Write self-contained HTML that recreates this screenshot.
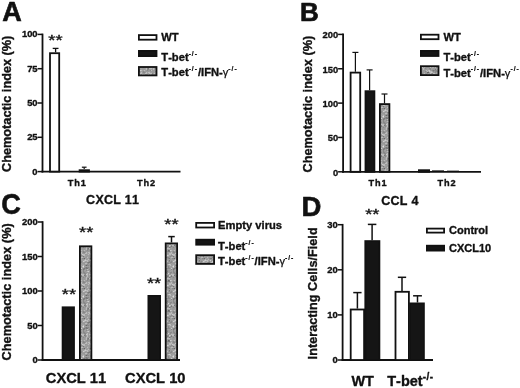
<!DOCTYPE html><html><head><meta charset="utf-8"><title>Figure</title><style>html,body{margin:0;padding:0;background:#fff;overflow:hidden}svg{display:block}</style></head><body><svg width="520" height="388" viewBox="0 0 520 388" fill="#111" style="font-kerning:none;filter:blur(0.4px)"><defs><pattern id="noise" width="30" height="30" patternUnits="userSpaceOnUse"><rect width="30" height="30" fill="#a0a0a0"/><rect x="0" y="0" width="1.02" height="1.02" fill="#888"/><rect x="0" y="1" width="1.02" height="1.02" fill="#888"/><rect x="0" y="4" width="1.02" height="1.02" fill="#ccc"/><rect x="0" y="7" width="1.02" height="1.02" fill="#ccc"/><rect x="0" y="8" width="1.02" height="1.02" fill="#bbb"/><rect x="0" y="10" width="1.02" height="1.02" fill="#888"/><rect x="0" y="11" width="1.02" height="1.02" fill="#999"/><rect x="0" y="13" width="1.02" height="1.02" fill="#bbb"/><rect x="0" y="14" width="1.02" height="1.02" fill="#bbb"/><rect x="0" y="18" width="1.02" height="1.02" fill="#777"/><rect x="0" y="19" width="1.02" height="1.02" fill="#999"/><rect x="0" y="20" width="1.02" height="1.02" fill="#ccc"/><rect x="0" y="25" width="1.02" height="1.02" fill="#888"/><rect x="0" y="26" width="1.02" height="1.02" fill="#888"/><rect x="1" y="0" width="1.02" height="1.02" fill="#888"/><rect x="1" y="1" width="1.02" height="1.02" fill="#999"/><rect x="1" y="2" width="1.02" height="1.02" fill="#bbb"/><rect x="1" y="3" width="1.02" height="1.02" fill="#bbb"/><rect x="1" y="4" width="1.02" height="1.02" fill="#888"/><rect x="1" y="5" width="1.02" height="1.02" fill="#888"/><rect x="1" y="6" width="1.02" height="1.02" fill="#ccc"/><rect x="1" y="7" width="1.02" height="1.02" fill="#ddd"/><rect x="1" y="8" width="1.02" height="1.02" fill="#bbb"/><rect x="1" y="10" width="1.02" height="1.02" fill="#bbb"/><rect x="1" y="11" width="1.02" height="1.02" fill="#999"/><rect x="1" y="13" width="1.02" height="1.02" fill="#bbb"/><rect x="1" y="15" width="1.02" height="1.02" fill="#999"/><rect x="1" y="16" width="1.02" height="1.02" fill="#999"/><rect x="1" y="17" width="1.02" height="1.02" fill="#999"/><rect x="1" y="18" width="1.02" height="1.02" fill="#777"/><rect x="1" y="19" width="1.02" height="1.02" fill="#999"/><rect x="1" y="20" width="1.02" height="1.02" fill="#999"/><rect x="1" y="21" width="1.02" height="1.02" fill="#999"/><rect x="1" y="22" width="1.02" height="1.02" fill="#bbb"/><rect x="1" y="23" width="1.02" height="1.02" fill="#888"/><rect x="1" y="26" width="1.02" height="1.02" fill="#999"/><rect x="1" y="27" width="1.02" height="1.02" fill="#999"/><rect x="1" y="28" width="1.02" height="1.02" fill="#999"/><rect x="1" y="29" width="1.02" height="1.02" fill="#ccc"/><rect x="2" y="0" width="1.02" height="1.02" fill="#999"/><rect x="2" y="1" width="1.02" height="1.02" fill="#999"/><rect x="2" y="2" width="1.02" height="1.02" fill="#999"/><rect x="2" y="3" width="1.02" height="1.02" fill="#999"/><rect x="2" y="4" width="1.02" height="1.02" fill="#999"/><rect x="2" y="5" width="1.02" height="1.02" fill="#999"/><rect x="2" y="6" width="1.02" height="1.02" fill="#ccc"/><rect x="2" y="7" width="1.02" height="1.02" fill="#ccc"/><rect x="2" y="9" width="1.02" height="1.02" fill="#999"/><rect x="2" y="10" width="1.02" height="1.02" fill="#999"/><rect x="2" y="11" width="1.02" height="1.02" fill="#999"/><rect x="2" y="12" width="1.02" height="1.02" fill="#999"/><rect x="2" y="13" width="1.02" height="1.02" fill="#888"/><rect x="2" y="14" width="1.02" height="1.02" fill="#888"/><rect x="2" y="15" width="1.02" height="1.02" fill="#999"/><rect x="2" y="16" width="1.02" height="1.02" fill="#999"/><rect x="2" y="17" width="1.02" height="1.02" fill="#888"/><rect x="2" y="19" width="1.02" height="1.02" fill="#999"/><rect x="2" y="21" width="1.02" height="1.02" fill="#ccc"/><rect x="2" y="22" width="1.02" height="1.02" fill="#bbb"/><rect x="2" y="24" width="1.02" height="1.02" fill="#ccc"/><rect x="2" y="27" width="1.02" height="1.02" fill="#999"/><rect x="2" y="28" width="1.02" height="1.02" fill="#999"/><rect x="3" y="1" width="1.02" height="1.02" fill="#999"/><rect x="3" y="2" width="1.02" height="1.02" fill="#999"/><rect x="3" y="3" width="1.02" height="1.02" fill="#888"/><rect x="3" y="4" width="1.02" height="1.02" fill="#999"/><rect x="3" y="5" width="1.02" height="1.02" fill="#999"/><rect x="3" y="6" width="1.02" height="1.02" fill="#999"/><rect x="3" y="8" width="1.02" height="1.02" fill="#bbb"/><rect x="3" y="9" width="1.02" height="1.02" fill="#bbb"/><rect x="3" y="10" width="1.02" height="1.02" fill="#999"/><rect x="3" y="11" width="1.02" height="1.02" fill="#999"/><rect x="3" y="12" width="1.02" height="1.02" fill="#999"/><rect x="3" y="14" width="1.02" height="1.02" fill="#999"/><rect x="3" y="15" width="1.02" height="1.02" fill="#888"/><rect x="3" y="19" width="1.02" height="1.02" fill="#999"/><rect x="3" y="20" width="1.02" height="1.02" fill="#999"/><rect x="3" y="21" width="1.02" height="1.02" fill="#999"/><rect x="3" y="22" width="1.02" height="1.02" fill="#999"/><rect x="3" y="23" width="1.02" height="1.02" fill="#bbb"/><rect x="3" y="24" width="1.02" height="1.02" fill="#bbb"/><rect x="3" y="25" width="1.02" height="1.02" fill="#ccc"/><rect x="4" y="0" width="1.02" height="1.02" fill="#bbb"/><rect x="4" y="1" width="1.02" height="1.02" fill="#999"/><rect x="4" y="3" width="1.02" height="1.02" fill="#777"/><rect x="4" y="4" width="1.02" height="1.02" fill="#888"/><rect x="4" y="5" width="1.02" height="1.02" fill="#bbb"/><rect x="4" y="7" width="1.02" height="1.02" fill="#bbb"/><rect x="4" y="10" width="1.02" height="1.02" fill="#999"/><rect x="4" y="13" width="1.02" height="1.02" fill="#bbb"/><rect x="4" y="14" width="1.02" height="1.02" fill="#999"/><rect x="4" y="15" width="1.02" height="1.02" fill="#999"/><rect x="4" y="17" width="1.02" height="1.02" fill="#bbb"/><rect x="4" y="20" width="1.02" height="1.02" fill="#888"/><rect x="4" y="21" width="1.02" height="1.02" fill="#888"/><rect x="4" y="22" width="1.02" height="1.02" fill="#888"/><rect x="4" y="24" width="1.02" height="1.02" fill="#999"/><rect x="4" y="27" width="1.02" height="1.02" fill="#bbb"/><rect x="4" y="28" width="1.02" height="1.02" fill="#ccc"/><rect x="5" y="1" width="1.02" height="1.02" fill="#999"/><rect x="5" y="2" width="1.02" height="1.02" fill="#999"/><rect x="5" y="3" width="1.02" height="1.02" fill="#999"/><rect x="5" y="4" width="1.02" height="1.02" fill="#888"/><rect x="5" y="5" width="1.02" height="1.02" fill="#999"/><rect x="5" y="6" width="1.02" height="1.02" fill="#ccc"/><rect x="5" y="8" width="1.02" height="1.02" fill="#888"/><rect x="5" y="9" width="1.02" height="1.02" fill="#999"/><rect x="5" y="11" width="1.02" height="1.02" fill="#888"/><rect x="5" y="12" width="1.02" height="1.02" fill="#999"/><rect x="5" y="13" width="1.02" height="1.02" fill="#999"/><rect x="5" y="14" width="1.02" height="1.02" fill="#999"/><rect x="5" y="15" width="1.02" height="1.02" fill="#999"/><rect x="5" y="17" width="1.02" height="1.02" fill="#888"/><rect x="5" y="18" width="1.02" height="1.02" fill="#999"/><rect x="5" y="20" width="1.02" height="1.02" fill="#999"/><rect x="5" y="21" width="1.02" height="1.02" fill="#bbb"/><rect x="5" y="22" width="1.02" height="1.02" fill="#777"/><rect x="5" y="23" width="1.02" height="1.02" fill="#999"/><rect x="5" y="24" width="1.02" height="1.02" fill="#999"/><rect x="5" y="26" width="1.02" height="1.02" fill="#ccc"/><rect x="5" y="27" width="1.02" height="1.02" fill="#ccc"/><rect x="5" y="29" width="1.02" height="1.02" fill="#999"/><rect x="6" y="0" width="1.02" height="1.02" fill="#888"/><rect x="6" y="1" width="1.02" height="1.02" fill="#888"/><rect x="6" y="2" width="1.02" height="1.02" fill="#999"/><rect x="6" y="3" width="1.02" height="1.02" fill="#999"/><rect x="6" y="4" width="1.02" height="1.02" fill="#999"/><rect x="6" y="5" width="1.02" height="1.02" fill="#999"/><rect x="6" y="6" width="1.02" height="1.02" fill="#999"/><rect x="6" y="7" width="1.02" height="1.02" fill="#999"/><rect x="6" y="8" width="1.02" height="1.02" fill="#999"/><rect x="6" y="9" width="1.02" height="1.02" fill="#999"/><rect x="6" y="10" width="1.02" height="1.02" fill="#bbb"/><rect x="6" y="12" width="1.02" height="1.02" fill="#999"/><rect x="6" y="13" width="1.02" height="1.02" fill="#999"/><rect x="6" y="14" width="1.02" height="1.02" fill="#888"/><rect x="6" y="15" width="1.02" height="1.02" fill="#999"/><rect x="6" y="17" width="1.02" height="1.02" fill="#777"/><rect x="6" y="18" width="1.02" height="1.02" fill="#777"/><rect x="6" y="19" width="1.02" height="1.02" fill="#888"/><rect x="6" y="20" width="1.02" height="1.02" fill="#999"/><rect x="6" y="21" width="1.02" height="1.02" fill="#ccc"/><rect x="6" y="22" width="1.02" height="1.02" fill="#999"/><rect x="6" y="23" width="1.02" height="1.02" fill="#999"/><rect x="6" y="24" width="1.02" height="1.02" fill="#bbb"/><rect x="6" y="25" width="1.02" height="1.02" fill="#999"/><rect x="6" y="27" width="1.02" height="1.02" fill="#ccc"/><rect x="6" y="28" width="1.02" height="1.02" fill="#888"/><rect x="6" y="29" width="1.02" height="1.02" fill="#888"/><rect x="7" y="0" width="1.02" height="1.02" fill="#888"/><rect x="7" y="1" width="1.02" height="1.02" fill="#888"/><rect x="7" y="2" width="1.02" height="1.02" fill="#999"/><rect x="7" y="5" width="1.02" height="1.02" fill="#999"/><rect x="7" y="6" width="1.02" height="1.02" fill="#888"/><rect x="7" y="7" width="1.02" height="1.02" fill="#999"/><rect x="7" y="11" width="1.02" height="1.02" fill="#bbb"/><rect x="7" y="12" width="1.02" height="1.02" fill="#666"/><rect x="7" y="13" width="1.02" height="1.02" fill="#888"/><rect x="7" y="14" width="1.02" height="1.02" fill="#bbb"/><rect x="7" y="17" width="1.02" height="1.02" fill="#888"/><rect x="7" y="18" width="1.02" height="1.02" fill="#999"/><rect x="7" y="19" width="1.02" height="1.02" fill="#999"/><rect x="7" y="20" width="1.02" height="1.02" fill="#999"/><rect x="7" y="21" width="1.02" height="1.02" fill="#999"/><rect x="7" y="22" width="1.02" height="1.02" fill="#bbb"/><rect x="7" y="25" width="1.02" height="1.02" fill="#999"/><rect x="7" y="26" width="1.02" height="1.02" fill="#999"/><rect x="7" y="29" width="1.02" height="1.02" fill="#999"/><rect x="8" y="0" width="1.02" height="1.02" fill="#bbb"/><rect x="8" y="3" width="1.02" height="1.02" fill="#999"/><rect x="8" y="4" width="1.02" height="1.02" fill="#999"/><rect x="8" y="5" width="1.02" height="1.02" fill="#999"/><rect x="8" y="6" width="1.02" height="1.02" fill="#999"/><rect x="8" y="7" width="1.02" height="1.02" fill="#999"/><rect x="8" y="10" width="1.02" height="1.02" fill="#bbb"/><rect x="8" y="12" width="1.02" height="1.02" fill="#666"/><rect x="8" y="13" width="1.02" height="1.02" fill="#999"/><rect x="8" y="14" width="1.02" height="1.02" fill="#bbb"/><rect x="8" y="15" width="1.02" height="1.02" fill="#ccc"/><rect x="8" y="16" width="1.02" height="1.02" fill="#bbb"/><rect x="8" y="17" width="1.02" height="1.02" fill="#ccc"/><rect x="8" y="18" width="1.02" height="1.02" fill="#bbb"/><rect x="8" y="19" width="1.02" height="1.02" fill="#999"/><rect x="8" y="20" width="1.02" height="1.02" fill="#999"/><rect x="8" y="21" width="1.02" height="1.02" fill="#999"/><rect x="8" y="22" width="1.02" height="1.02" fill="#999"/><rect x="8" y="23" width="1.02" height="1.02" fill="#999"/><rect x="8" y="25" width="1.02" height="1.02" fill="#bbb"/><rect x="8" y="26" width="1.02" height="1.02" fill="#bbb"/><rect x="8" y="27" width="1.02" height="1.02" fill="#bbb"/><rect x="8" y="29" width="1.02" height="1.02" fill="#bbb"/><rect x="9" y="0" width="1.02" height="1.02" fill="#bbb"/><rect x="9" y="1" width="1.02" height="1.02" fill="#999"/><rect x="9" y="2" width="1.02" height="1.02" fill="#999"/><rect x="9" y="3" width="1.02" height="1.02" fill="#999"/><rect x="9" y="4" width="1.02" height="1.02" fill="#999"/><rect x="9" y="5" width="1.02" height="1.02" fill="#999"/><rect x="9" y="8" width="1.02" height="1.02" fill="#888"/><rect x="9" y="9" width="1.02" height="1.02" fill="#999"/><rect x="9" y="10" width="1.02" height="1.02" fill="#ccc"/><rect x="9" y="11" width="1.02" height="1.02" fill="#ccc"/><rect x="9" y="13" width="1.02" height="1.02" fill="#999"/><rect x="9" y="15" width="1.02" height="1.02" fill="#888"/><rect x="9" y="16" width="1.02" height="1.02" fill="#888"/><rect x="9" y="18" width="1.02" height="1.02" fill="#bbb"/><rect x="9" y="19" width="1.02" height="1.02" fill="#888"/><rect x="9" y="20" width="1.02" height="1.02" fill="#bbb"/><rect x="9" y="21" width="1.02" height="1.02" fill="#ddd"/><rect x="9" y="22" width="1.02" height="1.02" fill="#999"/><rect x="9" y="23" width="1.02" height="1.02" fill="#888"/><rect x="9" y="24" width="1.02" height="1.02" fill="#999"/><rect x="9" y="25" width="1.02" height="1.02" fill="#999"/><rect x="9" y="26" width="1.02" height="1.02" fill="#888"/><rect x="9" y="27" width="1.02" height="1.02" fill="#999"/><rect x="9" y="28" width="1.02" height="1.02" fill="#999"/><rect x="9" y="29" width="1.02" height="1.02" fill="#999"/><rect x="10" y="1" width="1.02" height="1.02" fill="#bbb"/><rect x="10" y="2" width="1.02" height="1.02" fill="#999"/><rect x="10" y="3" width="1.02" height="1.02" fill="#999"/><rect x="10" y="6" width="1.02" height="1.02" fill="#ccc"/><rect x="10" y="7" width="1.02" height="1.02" fill="#ccc"/><rect x="10" y="8" width="1.02" height="1.02" fill="#888"/><rect x="10" y="9" width="1.02" height="1.02" fill="#888"/><rect x="10" y="11" width="1.02" height="1.02" fill="#bbb"/><rect x="10" y="12" width="1.02" height="1.02" fill="#bbb"/><rect x="10" y="13" width="1.02" height="1.02" fill="#bbb"/><rect x="10" y="14" width="1.02" height="1.02" fill="#999"/><rect x="10" y="15" width="1.02" height="1.02" fill="#888"/><rect x="10" y="16" width="1.02" height="1.02" fill="#777"/><rect x="10" y="17" width="1.02" height="1.02" fill="#999"/><rect x="10" y="18" width="1.02" height="1.02" fill="#999"/><rect x="10" y="19" width="1.02" height="1.02" fill="#777"/><rect x="10" y="20" width="1.02" height="1.02" fill="#bbb"/><rect x="10" y="22" width="1.02" height="1.02" fill="#999"/><rect x="10" y="24" width="1.02" height="1.02" fill="#999"/><rect x="10" y="25" width="1.02" height="1.02" fill="#999"/><rect x="10" y="26" width="1.02" height="1.02" fill="#888"/><rect x="10" y="28" width="1.02" height="1.02" fill="#999"/><rect x="10" y="29" width="1.02" height="1.02" fill="#777"/><rect x="11" y="0" width="1.02" height="1.02" fill="#888"/><rect x="11" y="3" width="1.02" height="1.02" fill="#999"/><rect x="11" y="5" width="1.02" height="1.02" fill="#bbb"/><rect x="11" y="10" width="1.02" height="1.02" fill="#999"/><rect x="11" y="11" width="1.02" height="1.02" fill="#bbb"/><rect x="11" y="12" width="1.02" height="1.02" fill="#ccc"/><rect x="11" y="13" width="1.02" height="1.02" fill="#999"/><rect x="11" y="15" width="1.02" height="1.02" fill="#bbb"/><rect x="11" y="17" width="1.02" height="1.02" fill="#999"/><rect x="11" y="18" width="1.02" height="1.02" fill="#999"/><rect x="11" y="19" width="1.02" height="1.02" fill="#999"/><rect x="11" y="20" width="1.02" height="1.02" fill="#888"/><rect x="11" y="21" width="1.02" height="1.02" fill="#777"/><rect x="11" y="22" width="1.02" height="1.02" fill="#999"/><rect x="11" y="23" width="1.02" height="1.02" fill="#999"/><rect x="11" y="25" width="1.02" height="1.02" fill="#888"/><rect x="11" y="26" width="1.02" height="1.02" fill="#bbb"/><rect x="11" y="29" width="1.02" height="1.02" fill="#777"/><rect x="12" y="0" width="1.02" height="1.02" fill="#888"/><rect x="12" y="1" width="1.02" height="1.02" fill="#777"/><rect x="12" y="2" width="1.02" height="1.02" fill="#999"/><rect x="12" y="4" width="1.02" height="1.02" fill="#bbb"/><rect x="12" y="6" width="1.02" height="1.02" fill="#999"/><rect x="12" y="7" width="1.02" height="1.02" fill="#bbb"/><rect x="12" y="9" width="1.02" height="1.02" fill="#999"/><rect x="12" y="10" width="1.02" height="1.02" fill="#888"/><rect x="12" y="12" width="1.02" height="1.02" fill="#bbb"/><rect x="12" y="13" width="1.02" height="1.02" fill="#888"/><rect x="12" y="16" width="1.02" height="1.02" fill="#bbb"/><rect x="12" y="17" width="1.02" height="1.02" fill="#888"/><rect x="12" y="18" width="1.02" height="1.02" fill="#888"/><rect x="12" y="19" width="1.02" height="1.02" fill="#888"/><rect x="12" y="21" width="1.02" height="1.02" fill="#999"/><rect x="12" y="22" width="1.02" height="1.02" fill="#999"/><rect x="12" y="23" width="1.02" height="1.02" fill="#ccc"/><rect x="12" y="24" width="1.02" height="1.02" fill="#ccc"/><rect x="12" y="27" width="1.02" height="1.02" fill="#999"/><rect x="12" y="29" width="1.02" height="1.02" fill="#888"/><rect x="13" y="0" width="1.02" height="1.02" fill="#bbb"/><rect x="13" y="1" width="1.02" height="1.02" fill="#999"/><rect x="13" y="2" width="1.02" height="1.02" fill="#999"/><rect x="13" y="3" width="1.02" height="1.02" fill="#999"/><rect x="13" y="5" width="1.02" height="1.02" fill="#999"/><rect x="13" y="7" width="1.02" height="1.02" fill="#bbb"/><rect x="13" y="8" width="1.02" height="1.02" fill="#999"/><rect x="13" y="9" width="1.02" height="1.02" fill="#999"/><rect x="13" y="10" width="1.02" height="1.02" fill="#777"/><rect x="13" y="11" width="1.02" height="1.02" fill="#888"/><rect x="13" y="13" width="1.02" height="1.02" fill="#bbb"/><rect x="13" y="14" width="1.02" height="1.02" fill="#999"/><rect x="13" y="15" width="1.02" height="1.02" fill="#ccc"/><rect x="13" y="16" width="1.02" height="1.02" fill="#ccc"/><rect x="13" y="17" width="1.02" height="1.02" fill="#888"/><rect x="13" y="19" width="1.02" height="1.02" fill="#999"/><rect x="13" y="21" width="1.02" height="1.02" fill="#ccc"/><rect x="13" y="25" width="1.02" height="1.02" fill="#bbb"/><rect x="13" y="27" width="1.02" height="1.02" fill="#888"/><rect x="13" y="28" width="1.02" height="1.02" fill="#999"/><rect x="14" y="1" width="1.02" height="1.02" fill="#999"/><rect x="14" y="5" width="1.02" height="1.02" fill="#888"/><rect x="14" y="8" width="1.02" height="1.02" fill="#999"/><rect x="14" y="9" width="1.02" height="1.02" fill="#999"/><rect x="14" y="10" width="1.02" height="1.02" fill="#888"/><rect x="14" y="11" width="1.02" height="1.02" fill="#999"/><rect x="14" y="12" width="1.02" height="1.02" fill="#999"/><rect x="14" y="13" width="1.02" height="1.02" fill="#bbb"/><rect x="14" y="16" width="1.02" height="1.02" fill="#bbb"/><rect x="14" y="18" width="1.02" height="1.02" fill="#ccc"/><rect x="14" y="21" width="1.02" height="1.02" fill="#bbb"/><rect x="14" y="22" width="1.02" height="1.02" fill="#999"/><rect x="14" y="23" width="1.02" height="1.02" fill="#999"/><rect x="14" y="24" width="1.02" height="1.02" fill="#888"/><rect x="14" y="26" width="1.02" height="1.02" fill="#bbb"/><rect x="14" y="27" width="1.02" height="1.02" fill="#999"/><rect x="14" y="28" width="1.02" height="1.02" fill="#888"/><rect x="15" y="0" width="1.02" height="1.02" fill="#888"/><rect x="15" y="1" width="1.02" height="1.02" fill="#999"/><rect x="15" y="2" width="1.02" height="1.02" fill="#999"/><rect x="15" y="3" width="1.02" height="1.02" fill="#ccc"/><rect x="15" y="4" width="1.02" height="1.02" fill="#ccc"/><rect x="15" y="6" width="1.02" height="1.02" fill="#ccc"/><rect x="15" y="7" width="1.02" height="1.02" fill="#bbb"/><rect x="15" y="8" width="1.02" height="1.02" fill="#999"/><rect x="15" y="9" width="1.02" height="1.02" fill="#777"/><rect x="15" y="10" width="1.02" height="1.02" fill="#888"/><rect x="15" y="11" width="1.02" height="1.02" fill="#888"/><rect x="15" y="12" width="1.02" height="1.02" fill="#888"/><rect x="15" y="18" width="1.02" height="1.02" fill="#999"/><rect x="15" y="19" width="1.02" height="1.02" fill="#999"/><rect x="15" y="20" width="1.02" height="1.02" fill="#ddd"/><rect x="15" y="21" width="1.02" height="1.02" fill="#bbb"/><rect x="15" y="22" width="1.02" height="1.02" fill="#bbb"/><rect x="15" y="24" width="1.02" height="1.02" fill="#999"/><rect x="15" y="26" width="1.02" height="1.02" fill="#bbb"/><rect x="15" y="28" width="1.02" height="1.02" fill="#999"/><rect x="16" y="0" width="1.02" height="1.02" fill="#999"/><rect x="16" y="1" width="1.02" height="1.02" fill="#999"/><rect x="16" y="2" width="1.02" height="1.02" fill="#888"/><rect x="16" y="4" width="1.02" height="1.02" fill="#bbb"/><rect x="16" y="5" width="1.02" height="1.02" fill="#999"/><rect x="16" y="6" width="1.02" height="1.02" fill="#999"/><rect x="16" y="7" width="1.02" height="1.02" fill="#888"/><rect x="16" y="10" width="1.02" height="1.02" fill="#888"/><rect x="16" y="11" width="1.02" height="1.02" fill="#888"/><rect x="16" y="14" width="1.02" height="1.02" fill="#999"/><rect x="16" y="16" width="1.02" height="1.02" fill="#999"/><rect x="16" y="17" width="1.02" height="1.02" fill="#777"/><rect x="16" y="18" width="1.02" height="1.02" fill="#999"/><rect x="16" y="20" width="1.02" height="1.02" fill="#ccc"/><rect x="16" y="21" width="1.02" height="1.02" fill="#ccc"/><rect x="16" y="22" width="1.02" height="1.02" fill="#ccc"/><rect x="16" y="23" width="1.02" height="1.02" fill="#bbb"/><rect x="16" y="27" width="1.02" height="1.02" fill="#bbb"/><rect x="16" y="28" width="1.02" height="1.02" fill="#888"/><rect x="17" y="0" width="1.02" height="1.02" fill="#888"/><rect x="17" y="1" width="1.02" height="1.02" fill="#777"/><rect x="17" y="2" width="1.02" height="1.02" fill="#888"/><rect x="17" y="3" width="1.02" height="1.02" fill="#888"/><rect x="17" y="5" width="1.02" height="1.02" fill="#888"/><rect x="17" y="6" width="1.02" height="1.02" fill="#777"/><rect x="17" y="7" width="1.02" height="1.02" fill="#999"/><rect x="17" y="8" width="1.02" height="1.02" fill="#bbb"/><rect x="17" y="10" width="1.02" height="1.02" fill="#999"/><rect x="17" y="11" width="1.02" height="1.02" fill="#888"/><rect x="17" y="12" width="1.02" height="1.02" fill="#999"/><rect x="17" y="13" width="1.02" height="1.02" fill="#999"/><rect x="17" y="15" width="1.02" height="1.02" fill="#ccc"/><rect x="17" y="17" width="1.02" height="1.02" fill="#888"/><rect x="17" y="18" width="1.02" height="1.02" fill="#999"/><rect x="17" y="21" width="1.02" height="1.02" fill="#bbb"/><rect x="17" y="22" width="1.02" height="1.02" fill="#999"/><rect x="17" y="23" width="1.02" height="1.02" fill="#888"/><rect x="17" y="25" width="1.02" height="1.02" fill="#999"/><rect x="17" y="26" width="1.02" height="1.02" fill="#999"/><rect x="17" y="28" width="1.02" height="1.02" fill="#888"/><rect x="17" y="29" width="1.02" height="1.02" fill="#999"/><rect x="18" y="0" width="1.02" height="1.02" fill="#999"/><rect x="18" y="1" width="1.02" height="1.02" fill="#999"/><rect x="18" y="3" width="1.02" height="1.02" fill="#ccc"/><rect x="18" y="5" width="1.02" height="1.02" fill="#888"/><rect x="18" y="6" width="1.02" height="1.02" fill="#888"/><rect x="18" y="8" width="1.02" height="1.02" fill="#bbb"/><rect x="18" y="9" width="1.02" height="1.02" fill="#999"/><rect x="18" y="10" width="1.02" height="1.02" fill="#666"/><rect x="18" y="11" width="1.02" height="1.02" fill="#777"/><rect x="18" y="13" width="1.02" height="1.02" fill="#999"/><rect x="18" y="15" width="1.02" height="1.02" fill="#bbb"/><rect x="18" y="17" width="1.02" height="1.02" fill="#888"/><rect x="18" y="18" width="1.02" height="1.02" fill="#888"/><rect x="18" y="20" width="1.02" height="1.02" fill="#999"/><rect x="18" y="21" width="1.02" height="1.02" fill="#999"/><rect x="18" y="22" width="1.02" height="1.02" fill="#999"/><rect x="18" y="23" width="1.02" height="1.02" fill="#888"/><rect x="18" y="24" width="1.02" height="1.02" fill="#bbb"/><rect x="18" y="25" width="1.02" height="1.02" fill="#999"/><rect x="18" y="26" width="1.02" height="1.02" fill="#888"/><rect x="18" y="27" width="1.02" height="1.02" fill="#888"/><rect x="18" y="28" width="1.02" height="1.02" fill="#888"/><rect x="19" y="0" width="1.02" height="1.02" fill="#999"/><rect x="19" y="1" width="1.02" height="1.02" fill="#999"/><rect x="19" y="2" width="1.02" height="1.02" fill="#999"/><rect x="19" y="4" width="1.02" height="1.02" fill="#999"/><rect x="19" y="5" width="1.02" height="1.02" fill="#ccc"/><rect x="19" y="6" width="1.02" height="1.02" fill="#bbb"/><rect x="19" y="7" width="1.02" height="1.02" fill="#777"/><rect x="19" y="8" width="1.02" height="1.02" fill="#bbb"/><rect x="19" y="10" width="1.02" height="1.02" fill="#777"/><rect x="19" y="11" width="1.02" height="1.02" fill="#777"/><rect x="19" y="13" width="1.02" height="1.02" fill="#bbb"/><rect x="19" y="14" width="1.02" height="1.02" fill="#bbb"/><rect x="19" y="16" width="1.02" height="1.02" fill="#999"/><rect x="19" y="17" width="1.02" height="1.02" fill="#999"/><rect x="19" y="18" width="1.02" height="1.02" fill="#777"/><rect x="19" y="20" width="1.02" height="1.02" fill="#777"/><rect x="19" y="21" width="1.02" height="1.02" fill="#888"/><rect x="19" y="23" width="1.02" height="1.02" fill="#999"/><rect x="19" y="24" width="1.02" height="1.02" fill="#ccc"/><rect x="19" y="27" width="1.02" height="1.02" fill="#999"/><rect x="19" y="28" width="1.02" height="1.02" fill="#888"/><rect x="20" y="0" width="1.02" height="1.02" fill="#999"/><rect x="20" y="2" width="1.02" height="1.02" fill="#888"/><rect x="20" y="3" width="1.02" height="1.02" fill="#888"/><rect x="20" y="4" width="1.02" height="1.02" fill="#999"/><rect x="20" y="5" width="1.02" height="1.02" fill="#bbb"/><rect x="20" y="6" width="1.02" height="1.02" fill="#999"/><rect x="20" y="7" width="1.02" height="1.02" fill="#888"/><rect x="20" y="9" width="1.02" height="1.02" fill="#999"/><rect x="20" y="10" width="1.02" height="1.02" fill="#ccc"/><rect x="20" y="13" width="1.02" height="1.02" fill="#bbb"/><rect x="20" y="14" width="1.02" height="1.02" fill="#bbb"/><rect x="20" y="16" width="1.02" height="1.02" fill="#888"/><rect x="20" y="18" width="1.02" height="1.02" fill="#999"/><rect x="20" y="19" width="1.02" height="1.02" fill="#999"/><rect x="20" y="21" width="1.02" height="1.02" fill="#999"/><rect x="20" y="22" width="1.02" height="1.02" fill="#888"/><rect x="20" y="23" width="1.02" height="1.02" fill="#999"/><rect x="20" y="24" width="1.02" height="1.02" fill="#bbb"/><rect x="20" y="25" width="1.02" height="1.02" fill="#bbb"/><rect x="20" y="28" width="1.02" height="1.02" fill="#999"/><rect x="21" y="1" width="1.02" height="1.02" fill="#999"/><rect x="21" y="2" width="1.02" height="1.02" fill="#888"/><rect x="21" y="4" width="1.02" height="1.02" fill="#bbb"/><rect x="21" y="5" width="1.02" height="1.02" fill="#888"/><rect x="21" y="6" width="1.02" height="1.02" fill="#777"/><rect x="21" y="10" width="1.02" height="1.02" fill="#bbb"/><rect x="21" y="12" width="1.02" height="1.02" fill="#bbb"/><rect x="21" y="13" width="1.02" height="1.02" fill="#bbb"/><rect x="21" y="15" width="1.02" height="1.02" fill="#888"/><rect x="21" y="16" width="1.02" height="1.02" fill="#999"/><rect x="21" y="17" width="1.02" height="1.02" fill="#bbb"/><rect x="21" y="20" width="1.02" height="1.02" fill="#999"/><rect x="21" y="21" width="1.02" height="1.02" fill="#888"/><rect x="21" y="22" width="1.02" height="1.02" fill="#888"/><rect x="21" y="24" width="1.02" height="1.02" fill="#999"/><rect x="21" y="26" width="1.02" height="1.02" fill="#999"/><rect x="21" y="28" width="1.02" height="1.02" fill="#ccc"/><rect x="21" y="29" width="1.02" height="1.02" fill="#888"/><rect x="22" y="4" width="1.02" height="1.02" fill="#bbb"/><rect x="22" y="5" width="1.02" height="1.02" fill="#bbb"/><rect x="22" y="6" width="1.02" height="1.02" fill="#999"/><rect x="22" y="7" width="1.02" height="1.02" fill="#999"/><rect x="22" y="8" width="1.02" height="1.02" fill="#999"/><rect x="22" y="9" width="1.02" height="1.02" fill="#999"/><rect x="22" y="11" width="1.02" height="1.02" fill="#999"/><rect x="22" y="12" width="1.02" height="1.02" fill="#999"/><rect x="22" y="14" width="1.02" height="1.02" fill="#ccc"/><rect x="22" y="15" width="1.02" height="1.02" fill="#999"/><rect x="22" y="16" width="1.02" height="1.02" fill="#999"/><rect x="22" y="17" width="1.02" height="1.02" fill="#bbb"/><rect x="22" y="18" width="1.02" height="1.02" fill="#888"/><rect x="22" y="19" width="1.02" height="1.02" fill="#999"/><rect x="22" y="21" width="1.02" height="1.02" fill="#999"/><rect x="22" y="22" width="1.02" height="1.02" fill="#999"/><rect x="22" y="23" width="1.02" height="1.02" fill="#999"/><rect x="22" y="26" width="1.02" height="1.02" fill="#bbb"/><rect x="23" y="0" width="1.02" height="1.02" fill="#888"/><rect x="23" y="1" width="1.02" height="1.02" fill="#888"/><rect x="23" y="2" width="1.02" height="1.02" fill="#888"/><rect x="23" y="3" width="1.02" height="1.02" fill="#999"/><rect x="23" y="4" width="1.02" height="1.02" fill="#bbb"/><rect x="23" y="5" width="1.02" height="1.02" fill="#bbb"/><rect x="23" y="7" width="1.02" height="1.02" fill="#888"/><rect x="23" y="8" width="1.02" height="1.02" fill="#999"/><rect x="23" y="9" width="1.02" height="1.02" fill="#999"/><rect x="23" y="11" width="1.02" height="1.02" fill="#888"/><rect x="23" y="12" width="1.02" height="1.02" fill="#888"/><rect x="23" y="13" width="1.02" height="1.02" fill="#999"/><rect x="23" y="14" width="1.02" height="1.02" fill="#bbb"/><rect x="23" y="15" width="1.02" height="1.02" fill="#bbb"/><rect x="23" y="16" width="1.02" height="1.02" fill="#777"/><rect x="23" y="18" width="1.02" height="1.02" fill="#888"/><rect x="23" y="19" width="1.02" height="1.02" fill="#999"/><rect x="23" y="21" width="1.02" height="1.02" fill="#ccc"/><rect x="23" y="23" width="1.02" height="1.02" fill="#999"/><rect x="23" y="25" width="1.02" height="1.02" fill="#bbb"/><rect x="23" y="26" width="1.02" height="1.02" fill="#ddd"/><rect x="23" y="27" width="1.02" height="1.02" fill="#bbb"/><rect x="23" y="28" width="1.02" height="1.02" fill="#888"/><rect x="23" y="29" width="1.02" height="1.02" fill="#777"/><rect x="24" y="1" width="1.02" height="1.02" fill="#999"/><rect x="24" y="2" width="1.02" height="1.02" fill="#888"/><rect x="24" y="3" width="1.02" height="1.02" fill="#888"/><rect x="24" y="4" width="1.02" height="1.02" fill="#999"/><rect x="24" y="5" width="1.02" height="1.02" fill="#777"/><rect x="24" y="7" width="1.02" height="1.02" fill="#999"/><rect x="24" y="8" width="1.02" height="1.02" fill="#999"/><rect x="24" y="9" width="1.02" height="1.02" fill="#999"/><rect x="24" y="10" width="1.02" height="1.02" fill="#bbb"/><rect x="24" y="11" width="1.02" height="1.02" fill="#999"/><rect x="24" y="12" width="1.02" height="1.02" fill="#888"/><rect x="24" y="13" width="1.02" height="1.02" fill="#999"/><rect x="24" y="14" width="1.02" height="1.02" fill="#bbb"/><rect x="24" y="15" width="1.02" height="1.02" fill="#bbb"/><rect x="24" y="18" width="1.02" height="1.02" fill="#666"/><rect x="24" y="19" width="1.02" height="1.02" fill="#999"/><rect x="24" y="20" width="1.02" height="1.02" fill="#bbb"/><rect x="24" y="21" width="1.02" height="1.02" fill="#bbb"/><rect x="24" y="22" width="1.02" height="1.02" fill="#999"/><rect x="24" y="23" width="1.02" height="1.02" fill="#999"/><rect x="24" y="24" width="1.02" height="1.02" fill="#999"/><rect x="24" y="26" width="1.02" height="1.02" fill="#999"/><rect x="24" y="27" width="1.02" height="1.02" fill="#999"/><rect x="24" y="28" width="1.02" height="1.02" fill="#777"/><rect x="24" y="29" width="1.02" height="1.02" fill="#888"/><rect x="25" y="1" width="1.02" height="1.02" fill="#999"/><rect x="25" y="2" width="1.02" height="1.02" fill="#999"/><rect x="25" y="3" width="1.02" height="1.02" fill="#888"/><rect x="25" y="4" width="1.02" height="1.02" fill="#888"/><rect x="25" y="5" width="1.02" height="1.02" fill="#888"/><rect x="25" y="6" width="1.02" height="1.02" fill="#888"/><rect x="25" y="7" width="1.02" height="1.02" fill="#999"/><rect x="25" y="11" width="1.02" height="1.02" fill="#999"/><rect x="25" y="12" width="1.02" height="1.02" fill="#999"/><rect x="25" y="13" width="1.02" height="1.02" fill="#bbb"/><rect x="25" y="14" width="1.02" height="1.02" fill="#999"/><rect x="25" y="17" width="1.02" height="1.02" fill="#999"/><rect x="25" y="19" width="1.02" height="1.02" fill="#bbb"/><rect x="25" y="20" width="1.02" height="1.02" fill="#ccc"/><rect x="25" y="22" width="1.02" height="1.02" fill="#999"/><rect x="25" y="23" width="1.02" height="1.02" fill="#bbb"/><rect x="25" y="25" width="1.02" height="1.02" fill="#888"/><rect x="25" y="27" width="1.02" height="1.02" fill="#888"/><rect x="25" y="28" width="1.02" height="1.02" fill="#888"/><rect x="26" y="0" width="1.02" height="1.02" fill="#888"/><rect x="26" y="2" width="1.02" height="1.02" fill="#999"/><rect x="26" y="4" width="1.02" height="1.02" fill="#ccc"/><rect x="26" y="7" width="1.02" height="1.02" fill="#bbb"/><rect x="26" y="8" width="1.02" height="1.02" fill="#bbb"/><rect x="26" y="9" width="1.02" height="1.02" fill="#bbb"/><rect x="26" y="10" width="1.02" height="1.02" fill="#999"/><rect x="26" y="11" width="1.02" height="1.02" fill="#999"/><rect x="26" y="12" width="1.02" height="1.02" fill="#bbb"/><rect x="26" y="13" width="1.02" height="1.02" fill="#bbb"/><rect x="26" y="14" width="1.02" height="1.02" fill="#999"/><rect x="26" y="16" width="1.02" height="1.02" fill="#999"/><rect x="26" y="17" width="1.02" height="1.02" fill="#999"/><rect x="26" y="19" width="1.02" height="1.02" fill="#999"/><rect x="26" y="20" width="1.02" height="1.02" fill="#bbb"/><rect x="26" y="23" width="1.02" height="1.02" fill="#bbb"/><rect x="26" y="24" width="1.02" height="1.02" fill="#999"/><rect x="26" y="25" width="1.02" height="1.02" fill="#666"/><rect x="26" y="27" width="1.02" height="1.02" fill="#777"/><rect x="26" y="28" width="1.02" height="1.02" fill="#777"/><rect x="26" y="29" width="1.02" height="1.02" fill="#999"/><rect x="27" y="0" width="1.02" height="1.02" fill="#999"/><rect x="27" y="1" width="1.02" height="1.02" fill="#bbb"/><rect x="27" y="2" width="1.02" height="1.02" fill="#999"/><rect x="27" y="3" width="1.02" height="1.02" fill="#bbb"/><rect x="27" y="4" width="1.02" height="1.02" fill="#bbb"/><rect x="27" y="5" width="1.02" height="1.02" fill="#bbb"/><rect x="27" y="6" width="1.02" height="1.02" fill="#bbb"/><rect x="27" y="8" width="1.02" height="1.02" fill="#888"/><rect x="27" y="9" width="1.02" height="1.02" fill="#888"/><rect x="27" y="10" width="1.02" height="1.02" fill="#888"/><rect x="27" y="11" width="1.02" height="1.02" fill="#999"/><rect x="27" y="15" width="1.02" height="1.02" fill="#999"/><rect x="27" y="17" width="1.02" height="1.02" fill="#bbb"/><rect x="27" y="20" width="1.02" height="1.02" fill="#bbb"/><rect x="27" y="21" width="1.02" height="1.02" fill="#bbb"/><rect x="27" y="22" width="1.02" height="1.02" fill="#888"/><rect x="27" y="23" width="1.02" height="1.02" fill="#999"/><rect x="27" y="24" width="1.02" height="1.02" fill="#888"/><rect x="27" y="25" width="1.02" height="1.02" fill="#888"/><rect x="27" y="27" width="1.02" height="1.02" fill="#888"/><rect x="27" y="28" width="1.02" height="1.02" fill="#777"/><rect x="27" y="29" width="1.02" height="1.02" fill="#bbb"/><rect x="28" y="0" width="1.02" height="1.02" fill="#999"/><rect x="28" y="1" width="1.02" height="1.02" fill="#ccc"/><rect x="28" y="3" width="1.02" height="1.02" fill="#999"/><rect x="28" y="4" width="1.02" height="1.02" fill="#999"/><rect x="28" y="5" width="1.02" height="1.02" fill="#999"/><rect x="28" y="6" width="1.02" height="1.02" fill="#999"/><rect x="28" y="7" width="1.02" height="1.02" fill="#999"/><rect x="28" y="8" width="1.02" height="1.02" fill="#777"/><rect x="28" y="9" width="1.02" height="1.02" fill="#888"/><rect x="28" y="10" width="1.02" height="1.02" fill="#999"/><rect x="28" y="11" width="1.02" height="1.02" fill="#999"/><rect x="28" y="12" width="1.02" height="1.02" fill="#bbb"/><rect x="28" y="14" width="1.02" height="1.02" fill="#bbb"/><rect x="28" y="19" width="1.02" height="1.02" fill="#bbb"/><rect x="28" y="22" width="1.02" height="1.02" fill="#777"/><rect x="28" y="23" width="1.02" height="1.02" fill="#888"/><rect x="28" y="24" width="1.02" height="1.02" fill="#999"/><rect x="28" y="25" width="1.02" height="1.02" fill="#888"/><rect x="28" y="26" width="1.02" height="1.02" fill="#999"/><rect x="28" y="27" width="1.02" height="1.02" fill="#888"/><rect x="28" y="28" width="1.02" height="1.02" fill="#999"/><rect x="29" y="0" width="1.02" height="1.02" fill="#999"/><rect x="29" y="2" width="1.02" height="1.02" fill="#999"/><rect x="29" y="4" width="1.02" height="1.02" fill="#bbb"/><rect x="29" y="6" width="1.02" height="1.02" fill="#999"/><rect x="29" y="7" width="1.02" height="1.02" fill="#999"/><rect x="29" y="8" width="1.02" height="1.02" fill="#bbb"/><rect x="29" y="10" width="1.02" height="1.02" fill="#999"/><rect x="29" y="12" width="1.02" height="1.02" fill="#bbb"/><rect x="29" y="13" width="1.02" height="1.02" fill="#bbb"/><rect x="29" y="15" width="1.02" height="1.02" fill="#999"/><rect x="29" y="16" width="1.02" height="1.02" fill="#999"/><rect x="29" y="17" width="1.02" height="1.02" fill="#999"/><rect x="29" y="18" width="1.02" height="1.02" fill="#888"/><rect x="29" y="19" width="1.02" height="1.02" fill="#999"/><rect x="29" y="21" width="1.02" height="1.02" fill="#888"/><rect x="29" y="22" width="1.02" height="1.02" fill="#777"/><rect x="29" y="24" width="1.02" height="1.02" fill="#999"/><rect x="29" y="25" width="1.02" height="1.02" fill="#999"/><rect x="29" y="27" width="1.02" height="1.02" fill="#999"/><rect x="29" y="28" width="1.02" height="1.02" fill="#999"/><rect x="29" y="29" width="1.02" height="1.02" fill="#888"/></pattern></defs>
<text transform="translate(2.20,20.60) scale(1.0,1)" font-size="27" text-anchor="start" font-family="'Liberation Sans', sans-serif" font-weight="bold" stroke="#111" stroke-width="0.7" stroke-linejoin="round" >A</text>
<line x1="42.50" y1="33.60" x2="42.50" y2="172.50" stroke="#111" stroke-width="1.8"/>
<line x1="41.50" y1="171.60" x2="180.50" y2="171.60" stroke="#111" stroke-width="1.8"/>
<line x1="37.50" y1="171.60" x2="42.50" y2="171.60" stroke="#111" stroke-width="1.5"/>
<text transform="translate(37.60,174.60) scale(0.95,1)" font-size="9.9" text-anchor="end" font-family="'Liberation Sans', sans-serif" font-weight="bold" stroke="#111" stroke-width="0.35" stroke-linejoin="round" >0</text>
<line x1="37.50" y1="137.30" x2="42.50" y2="137.30" stroke="#111" stroke-width="1.5"/>
<text transform="translate(37.60,140.30) scale(0.95,1)" font-size="9.9" text-anchor="end" font-family="'Liberation Sans', sans-serif" font-weight="bold" stroke="#111" stroke-width="0.35" stroke-linejoin="round" >25</text>
<line x1="37.50" y1="103.00" x2="42.50" y2="103.00" stroke="#111" stroke-width="1.5"/>
<text transform="translate(37.60,106.00) scale(0.95,1)" font-size="9.9" text-anchor="end" font-family="'Liberation Sans', sans-serif" font-weight="bold" stroke="#111" stroke-width="0.35" stroke-linejoin="round" >50</text>
<line x1="37.50" y1="68.70" x2="42.50" y2="68.70" stroke="#111" stroke-width="1.5"/>
<text transform="translate(37.60,71.70) scale(0.95,1)" font-size="9.9" text-anchor="end" font-family="'Liberation Sans', sans-serif" font-weight="bold" stroke="#111" stroke-width="0.35" stroke-linejoin="round" >75</text>
<line x1="37.50" y1="34.40" x2="42.50" y2="34.40" stroke="#111" stroke-width="1.5"/>
<text transform="translate(37.60,37.40) scale(0.95,1)" font-size="9.9" text-anchor="end" font-family="'Liberation Sans', sans-serif" font-weight="bold" stroke="#111" stroke-width="0.35" stroke-linejoin="round" >100</text>
<text transform="translate(11.4,103.8) rotate(-90) scale(1.0,1)" font-size="12.7" text-anchor="middle" letter-spacing="0.00" word-spacing="0.00" stroke="#111" stroke-width="0.35" textLength="136.30" lengthAdjust="spacing" font-family="'Liberation Sans', sans-serif" font-weight="bold">Chemotactic index (%)</text>
<rect x="50.00" y="53.20" width="9.20" height="118.40" fill="#fff" stroke="#111" stroke-width="1.8"/>
<line x1="55.60" y1="48.40" x2="55.60" y2="52.30" stroke="#111" stroke-width="1.3"/>
<line x1="52.70" y1="48.40" x2="58.50" y2="48.40" stroke="#111" stroke-width="1.3"/>
<text transform="translate(55.4,39.60) scale(1,0.8)" y="6.2" font-size="18.3" text-anchor="middle" font-family="'Liberation Sans', sans-serif" stroke="#111" stroke-width="0.45">**</text>
<rect x="79.60" y="170.20" width="9.40" height="1.40" fill="#151515" stroke="#111" stroke-width="1.8"/>
<line x1="84.20" y1="167.20" x2="84.20" y2="169.10" stroke="#111" stroke-width="1.2"/>
<line x1="81.85" y1="167.20" x2="86.55" y2="167.20" stroke="#111" stroke-width="1.2"/>
<text transform="translate(77.30,185.50) scale(0.94,1)" font-size="9.8" text-anchor="middle" font-family="'Liberation Sans', sans-serif" font-weight="bold" stroke="#111" stroke-width="0.35" stroke-linejoin="round" letter-spacing="0.9">Th1</text>
<text transform="translate(146.40,185.50) scale(0.94,1)" font-size="9.8" text-anchor="middle" font-family="'Liberation Sans', sans-serif" font-weight="bold" stroke="#111" stroke-width="0.35" stroke-linejoin="round" letter-spacing="0.9">Th2</text>
<text transform="translate(112.70,204.20) scale(1.0,1)" font-size="12.5" text-anchor="middle" font-family="'Liberation Sans', sans-serif" font-weight="bold" stroke="#111" stroke-width="0.35" stroke-linejoin="round" letter-spacing="0.25">CXCL 11</text>
<rect x="138.90" y="35.10" width="17.60" height="4.60" fill="#fff" stroke="#111" stroke-width="1.8"/>
<text transform="translate(161.30,40.90) scale(1.0,1)" font-size="11.2" text-anchor="start" font-family="'Liberation Sans', sans-serif" font-weight="bold" stroke="#111" stroke-width="0.35" stroke-linejoin="round" >WT</text>
<rect x="138.90" y="50.90" width="17.60" height="5.20" fill="#151515" stroke="#111" stroke-width="1.8"/>
<text transform="translate(161.30,61.20) scale(1.0,1)" font-size="11.2" text-anchor="start" font-family="'Liberation Sans', sans-serif" font-weight="bold" stroke="#111" stroke-width="0.35" stroke-linejoin="round" >T-bet<tspan font-size="6.8" letter-spacing="0.95" stroke-width="0.2" dy="-5.2">-/-</tspan></text>
<rect x="138.90" y="67.00" width="17.60" height="8.40" fill="url(#noise)" stroke="#111" stroke-width="1.8"/>
<text transform="translate(161.30,76.00) scale(1.0,1)" font-size="11.2" text-anchor="start" font-family="'Liberation Sans', sans-serif" font-weight="bold" stroke="#111" stroke-width="0.35" stroke-linejoin="round" >T-bet<tspan font-size="6.8" letter-spacing="0.95" stroke-width="0.2" dy="-5.2">-/-</tspan><tspan dy="5.2">/IFN-</tspan><tspan font-weight="normal" stroke-width="0.25">γ</tspan><tspan font-size="6.8" letter-spacing="0.95" stroke-width="0.2" dy="-5.2">-/-</tspan></text>
<text transform="translate(300.00,21.20) scale(1.0,1)" font-size="26" text-anchor="start" font-family="'Liberation Sans', sans-serif" font-weight="bold" stroke="#111" stroke-width="0.7" stroke-linejoin="round" >B</text>
<line x1="343.10" y1="33.60" x2="343.10" y2="172.70" stroke="#111" stroke-width="1.8"/>
<line x1="342.10" y1="171.80" x2="481.00" y2="171.80" stroke="#111" stroke-width="1.8"/>
<line x1="338.10" y1="171.80" x2="343.10" y2="171.80" stroke="#111" stroke-width="1.5"/>
<text transform="translate(338.20,175.60) scale(0.95,1)" font-size="9.9" text-anchor="end" font-family="'Liberation Sans', sans-serif" font-weight="bold" stroke="#111" stroke-width="0.35" stroke-linejoin="round" >0</text>
<line x1="338.10" y1="137.45" x2="343.10" y2="137.45" stroke="#111" stroke-width="1.5"/>
<text transform="translate(338.20,141.25) scale(0.95,1)" font-size="9.9" text-anchor="end" font-family="'Liberation Sans', sans-serif" font-weight="bold" stroke="#111" stroke-width="0.35" stroke-linejoin="round" >50</text>
<line x1="338.10" y1="103.10" x2="343.10" y2="103.10" stroke="#111" stroke-width="1.5"/>
<text transform="translate(338.20,106.90) scale(0.95,1)" font-size="9.9" text-anchor="end" font-family="'Liberation Sans', sans-serif" font-weight="bold" stroke="#111" stroke-width="0.35" stroke-linejoin="round" >100</text>
<line x1="338.10" y1="68.75" x2="343.10" y2="68.75" stroke="#111" stroke-width="1.5"/>
<text transform="translate(338.20,72.55) scale(0.95,1)" font-size="9.9" text-anchor="end" font-family="'Liberation Sans', sans-serif" font-weight="bold" stroke="#111" stroke-width="0.35" stroke-linejoin="round" >150</text>
<line x1="338.10" y1="34.40" x2="343.10" y2="34.40" stroke="#111" stroke-width="1.5"/>
<text transform="translate(338.20,38.20) scale(0.95,1)" font-size="9.9" text-anchor="end" font-family="'Liberation Sans', sans-serif" font-weight="bold" stroke="#111" stroke-width="0.35" stroke-linejoin="round" >200</text>
<text transform="translate(311.8,104.1) rotate(-90) scale(1.0,1)" font-size="12.7" text-anchor="middle" letter-spacing="0.00" word-spacing="0.00" stroke="#111" stroke-width="0.35" textLength="136.90" lengthAdjust="spacing" font-family="'Liberation Sans', sans-serif" font-weight="bold">Chemotactic index (%)</text>
<rect x="350.60" y="72.60" width="9.60" height="99.20" fill="#fff" stroke="#111" stroke-width="1.8"/>
<line x1="355.40" y1="52.40" x2="355.40" y2="71.70" stroke="#111" stroke-width="1.2"/>
<line x1="352.40" y1="52.40" x2="358.40" y2="52.40" stroke="#111" stroke-width="1.2"/>
<rect x="365.50" y="91.20" width="8.90" height="80.60" fill="#151515" stroke="#111" stroke-width="1.8"/>
<line x1="369.60" y1="69.90" x2="369.60" y2="90.30" stroke="#111" stroke-width="1.2"/>
<line x1="366.60" y1="69.90" x2="372.60" y2="69.90" stroke="#111" stroke-width="1.2"/>
<rect x="379.90" y="104.10" width="9.50" height="67.70" fill="url(#noise)" stroke="#111" stroke-width="1.8"/>
<line x1="384.50" y1="94.00" x2="384.50" y2="103.50" stroke="#111" stroke-width="1.2"/>
<line x1="381.50" y1="94.00" x2="387.50" y2="94.00" stroke="#111" stroke-width="1.2"/>
<rect x="418.90" y="170.20" width="10.20" height="1.60" fill="#151515" stroke="#111" stroke-width="1.8"/>
<line x1="432.00" y1="170.70" x2="444.00" y2="170.70" stroke="#111" stroke-width="0.8"/>
<line x1="447.00" y1="170.90" x2="459.00" y2="170.90" stroke="#111" stroke-width="0.6"/>
<text transform="translate(377.90,185.60) scale(0.94,1)" font-size="9.8" text-anchor="middle" font-family="'Liberation Sans', sans-serif" font-weight="bold" stroke="#111" stroke-width="0.35" stroke-linejoin="round" letter-spacing="0.9">Th1</text>
<text transform="translate(446.90,185.60) scale(0.94,1)" font-size="9.8" text-anchor="middle" font-family="'Liberation Sans', sans-serif" font-weight="bold" stroke="#111" stroke-width="0.35" stroke-linejoin="round" letter-spacing="0.9">Th2</text>
<text transform="translate(400.00,205.10) scale(1.0,1)" font-size="12.5" text-anchor="middle" font-family="'Liberation Sans', sans-serif" font-weight="bold" stroke="#111" stroke-width="0.35" stroke-linejoin="round" letter-spacing="0.25">CCL 4</text>
<rect x="420.90" y="34.70" width="17.60" height="4.50" fill="#fff" stroke="#111" stroke-width="1.8"/>
<text transform="translate(443.40,40.90) scale(1.0,1)" font-size="11.2" text-anchor="start" font-family="'Liberation Sans', sans-serif" font-weight="bold" stroke="#111" stroke-width="0.35" stroke-linejoin="round" >WT</text>
<rect x="420.90" y="50.90" width="17.60" height="5.10" fill="#151515" stroke="#111" stroke-width="1.8"/>
<text transform="translate(443.40,61.30) scale(1.0,1)" font-size="11.2" text-anchor="start" font-family="'Liberation Sans', sans-serif" font-weight="bold" stroke="#111" stroke-width="0.35" stroke-linejoin="round" >T-bet<tspan font-size="6.8" letter-spacing="0.95" stroke-width="0.2" dy="-5.2">-/-</tspan></text>
<rect x="420.90" y="66.20" width="17.60" height="8.90" fill="url(#noise)" stroke="#111" stroke-width="1.8"/>
<text transform="translate(443.40,76.50) scale(1.0,1)" font-size="11.2" text-anchor="start" font-family="'Liberation Sans', sans-serif" font-weight="bold" stroke="#111" stroke-width="0.35" stroke-linejoin="round" >T-bet<tspan font-size="6.8" letter-spacing="0.95" stroke-width="0.2" dy="-5.2">-/-</tspan><tspan dy="5.2">/IFN-</tspan><tspan font-weight="normal" stroke-width="0.25">γ</tspan><tspan font-size="6.8" letter-spacing="0.95" stroke-width="0.2" dy="-5.2">-/-</tspan></text>
<text transform="translate(1.30,214.10) scale(0.92,1)" font-size="29.5" text-anchor="start" font-family="'Liberation Sans', sans-serif" font-weight="bold" stroke="#111" stroke-width="0.6" stroke-linejoin="round" >C</text>
<line x1="42.60" y1="221.20" x2="42.60" y2="360.90" stroke="#111" stroke-width="1.8"/>
<line x1="41.60" y1="360.00" x2="180.00" y2="360.00" stroke="#111" stroke-width="1.8"/>
<line x1="37.60" y1="360.00" x2="42.60" y2="360.00" stroke="#111" stroke-width="1.5"/>
<text transform="translate(37.70,363.00) scale(0.95,1)" font-size="9.9" text-anchor="end" font-family="'Liberation Sans', sans-serif" font-weight="bold" stroke="#111" stroke-width="0.35" stroke-linejoin="round" >0</text>
<line x1="37.60" y1="325.50" x2="42.60" y2="325.50" stroke="#111" stroke-width="1.5"/>
<text transform="translate(37.70,328.50) scale(0.95,1)" font-size="9.9" text-anchor="end" font-family="'Liberation Sans', sans-serif" font-weight="bold" stroke="#111" stroke-width="0.35" stroke-linejoin="round" >50</text>
<line x1="37.60" y1="291.00" x2="42.60" y2="291.00" stroke="#111" stroke-width="1.5"/>
<text transform="translate(37.70,294.00) scale(0.95,1)" font-size="9.9" text-anchor="end" font-family="'Liberation Sans', sans-serif" font-weight="bold" stroke="#111" stroke-width="0.35" stroke-linejoin="round" >100</text>
<line x1="37.60" y1="256.50" x2="42.60" y2="256.50" stroke="#111" stroke-width="1.5"/>
<text transform="translate(37.70,259.50) scale(0.95,1)" font-size="9.9" text-anchor="end" font-family="'Liberation Sans', sans-serif" font-weight="bold" stroke="#111" stroke-width="0.35" stroke-linejoin="round" >150</text>
<line x1="37.60" y1="222.00" x2="42.60" y2="222.00" stroke="#111" stroke-width="1.5"/>
<text transform="translate(37.70,225.00) scale(0.95,1)" font-size="9.9" text-anchor="end" font-family="'Liberation Sans', sans-serif" font-weight="bold" stroke="#111" stroke-width="0.35" stroke-linejoin="round" >200</text>
<text transform="translate(11.4,291.9) rotate(-90) scale(1.0,1)" font-size="12.7" text-anchor="middle" letter-spacing="0.00" word-spacing="0.00" stroke="#111" stroke-width="0.35" textLength="137.20" lengthAdjust="spacing" font-family="'Liberation Sans', sans-serif" font-weight="bold">Chemotactic index (%)</text>
<rect x="62.60" y="307.30" width="11.40" height="52.70" fill="#151515" stroke="#111" stroke-width="1.8"/>
<rect x="79.90" y="246.30" width="11.50" height="113.70" fill="url(#noise)" stroke="#111" stroke-width="1.8"/>
<text transform="translate(69,294.00) scale(1,0.8)" y="6.2" font-size="18.3" text-anchor="middle" font-family="'Liberation Sans', sans-serif" stroke="#111" stroke-width="0.45">**</text>
<text transform="translate(86.2,232.40) scale(1,0.8)" y="6.2" font-size="18.3" text-anchor="middle" font-family="'Liberation Sans', sans-serif" stroke="#111" stroke-width="0.45">**</text>
<rect x="148.40" y="295.90" width="11.70" height="64.10" fill="#151515" stroke="#111" stroke-width="1.8"/>
<rect x="165.70" y="243.40" width="11.40" height="116.60" fill="url(#noise)" stroke="#111" stroke-width="1.8"/>
<line x1="171.50" y1="236.60" x2="171.50" y2="242.50" stroke="#111" stroke-width="1.5"/>
<line x1="168.25" y1="236.60" x2="174.75" y2="236.60" stroke="#111" stroke-width="1.5"/>
<text transform="translate(154.1,282.90) scale(1,0.8)" y="6.2" font-size="18.3" text-anchor="middle" font-family="'Liberation Sans', sans-serif" stroke="#111" stroke-width="0.45">**</text>
<text transform="translate(171.5,224.30) scale(1,0.8)" y="6.2" font-size="18.3" text-anchor="middle" font-family="'Liberation Sans', sans-serif" stroke="#111" stroke-width="0.45">**</text>
<text transform="translate(76.00,383.30) scale(0.98,1)" font-size="15" text-anchor="middle" font-family="'Liberation Sans', sans-serif" font-weight="bold" stroke="#111" stroke-width="0.35" stroke-linejoin="round" >CXCL 11</text>
<text transform="translate(155.30,383.30) scale(0.98,1)" font-size="15" text-anchor="middle" font-family="'Liberation Sans', sans-serif" font-weight="bold" stroke="#111" stroke-width="0.35" stroke-linejoin="round" >CXCL 10</text>
<rect x="196.20" y="222.90" width="17.90" height="4.60" fill="#fff" stroke="#111" stroke-width="1.8"/>
<text transform="translate(218.00,228.50) scale(1.0,1)" font-size="11.2" text-anchor="start" font-family="'Liberation Sans', sans-serif" font-weight="bold" stroke="#111" stroke-width="0.35" stroke-linejoin="round" >Empty virus</text>
<rect x="196.20" y="239.70" width="17.90" height="5.00" fill="#151515" stroke="#111" stroke-width="1.8"/>
<text transform="translate(218.00,249.80) scale(1.0,1)" font-size="11.2" text-anchor="start" font-family="'Liberation Sans', sans-serif" font-weight="bold" stroke="#111" stroke-width="0.35" stroke-linejoin="round" >T-bet<tspan font-size="6.8" letter-spacing="0.95" stroke-width="0.2" dy="-5.2">-/-</tspan></text>
<rect x="196.20" y="255.20" width="17.90" height="8.70" fill="url(#noise)" stroke="#111" stroke-width="1.8"/>
<text transform="translate(218.00,265.30) scale(1.0,1)" font-size="11.2" text-anchor="start" font-family="'Liberation Sans', sans-serif" font-weight="bold" stroke="#111" stroke-width="0.35" stroke-linejoin="round" >T-bet<tspan font-size="6.8" letter-spacing="0.95" stroke-width="0.2" dy="-5.2">-/-</tspan><tspan dy="5.2">/IFN-</tspan><tspan font-weight="normal" stroke-width="0.25">γ</tspan><tspan font-size="6.8" letter-spacing="0.95" stroke-width="0.2" dy="-5.2">-/-</tspan></text>
<text transform="translate(301.60,215.50) scale(1.0,1)" font-size="27.5" text-anchor="start" font-family="'Liberation Sans', sans-serif" font-weight="bold" stroke="#111" stroke-width="0.6" stroke-linejoin="round" >D</text>
<line x1="342.60" y1="223.90" x2="342.60" y2="360.90" stroke="#111" stroke-width="1.8"/>
<line x1="341.60" y1="360.00" x2="433.00" y2="360.00" stroke="#111" stroke-width="1.8"/>
<line x1="337.60" y1="360.00" x2="342.60" y2="360.00" stroke="#111" stroke-width="1.5"/>
<text transform="translate(337.70,363.40) scale(0.95,1)" font-size="9.9" text-anchor="end" font-family="'Liberation Sans', sans-serif" font-weight="bold" stroke="#111" stroke-width="0.35" stroke-linejoin="round" >0</text>
<line x1="337.60" y1="314.90" x2="342.60" y2="314.90" stroke="#111" stroke-width="1.5"/>
<text transform="translate(337.70,318.30) scale(0.95,1)" font-size="9.9" text-anchor="end" font-family="'Liberation Sans', sans-serif" font-weight="bold" stroke="#111" stroke-width="0.35" stroke-linejoin="round" >10</text>
<line x1="337.60" y1="269.80" x2="342.60" y2="269.80" stroke="#111" stroke-width="1.5"/>
<text transform="translate(337.70,273.20) scale(0.95,1)" font-size="9.9" text-anchor="end" font-family="'Liberation Sans', sans-serif" font-weight="bold" stroke="#111" stroke-width="0.35" stroke-linejoin="round" >20</text>
<line x1="337.60" y1="224.70" x2="342.60" y2="224.70" stroke="#111" stroke-width="1.5"/>
<text transform="translate(337.70,228.10) scale(0.95,1)" font-size="9.9" text-anchor="end" font-family="'Liberation Sans', sans-serif" font-weight="bold" stroke="#111" stroke-width="0.35" stroke-linejoin="round" >30</text>
<text transform="translate(316.9,293.4) rotate(-90) scale(1.0,1)" font-size="12.6" text-anchor="middle" letter-spacing="0.00" word-spacing="0.00" stroke="#111" stroke-width="0.35" textLength="132.00" lengthAdjust="spacing" font-family="'Liberation Sans', sans-serif" font-weight="bold">Interacting Cells/Field</text>
<rect x="350.70" y="309.50" width="13.40" height="50.50" fill="#fff" stroke="#111" stroke-width="1.8"/>
<line x1="357.40" y1="292.60" x2="357.40" y2="308.60" stroke="#111" stroke-width="1.5"/>
<line x1="353.25" y1="292.60" x2="361.55" y2="292.60" stroke="#111" stroke-width="1.5"/>
<rect x="365.30" y="241.10" width="14.10" height="118.90" fill="#151515" stroke="#111" stroke-width="1.8"/>
<line x1="372.10" y1="224.40" x2="372.10" y2="240.20" stroke="#111" stroke-width="1.5"/>
<line x1="367.85" y1="224.40" x2="376.35" y2="224.40" stroke="#111" stroke-width="1.5"/>
<text transform="translate(372.3,213.70) scale(1,0.8)" y="6.2" font-size="18.3" text-anchor="middle" font-family="'Liberation Sans', sans-serif" stroke="#111" stroke-width="0.45">**</text>
<rect x="395.50" y="291.80" width="13.40" height="68.20" fill="#fff" stroke="#111" stroke-width="1.8"/>
<line x1="402.00" y1="277.30" x2="402.00" y2="290.90" stroke="#111" stroke-width="1.5"/>
<line x1="397.85" y1="277.30" x2="406.15" y2="277.30" stroke="#111" stroke-width="1.5"/>
<rect x="410.10" y="303.40" width="13.80" height="56.60" fill="#151515" stroke="#111" stroke-width="1.8"/>
<line x1="417.50" y1="295.80" x2="417.50" y2="302.50" stroke="#111" stroke-width="1.5"/>
<line x1="413.10" y1="295.80" x2="421.90" y2="295.80" stroke="#111" stroke-width="1.5"/>
<text transform="translate(362.70,386.30) scale(1.0,1)" font-size="14.5" text-anchor="middle" font-family="'Liberation Sans', sans-serif" font-weight="bold" stroke="#111" stroke-width="0.35" stroke-linejoin="round" >WT</text>
<text transform="translate(387.20,386.30) scale(1.0,1)" font-size="14.5" text-anchor="start" font-family="'Liberation Sans', sans-serif" font-weight="bold" stroke="#111" stroke-width="0.35" stroke-linejoin="round" >T-bet<tspan font-size="10" letter-spacing="0.5" dy="-6.3">-/-</tspan></text>
<rect x="426.90" y="228.60" width="17.20" height="4.00" fill="#fff" stroke="#111" stroke-width="1.8"/>
<text transform="translate(449.00,233.90) scale(1.0,1)" font-size="11" text-anchor="start" font-family="'Liberation Sans', sans-serif" font-weight="bold" stroke="#111" stroke-width="0.35" stroke-linejoin="round" >Control</text>
<rect x="426.90" y="245.70" width="17.20" height="4.90" fill="#151515" stroke="#111" stroke-width="1.8"/>
<text transform="translate(449.00,251.70) scale(1.0,1)" font-size="11" text-anchor="start" font-family="'Liberation Sans', sans-serif" font-weight="bold" stroke="#111" stroke-width="0.35" stroke-linejoin="round" >CXCL10</text></svg></body></html>
